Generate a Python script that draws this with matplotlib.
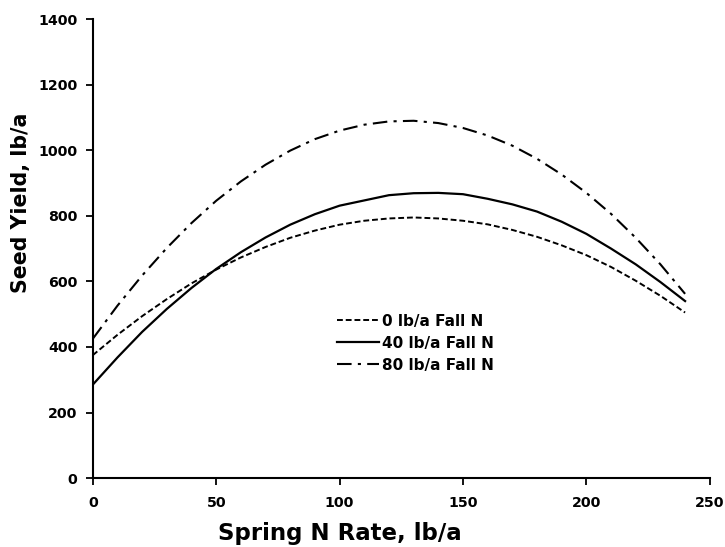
import matplotlib.pyplot as plt

plt.rcParams['font.family'] = ['DejaVu Sans']
plt.rcParams['font.weight'] = 'bold'

# spring N rate (lb/a) and seed yield (lb/a) for each fall N rate
spring_n = list(range(0, 241, 10))
yield_0 = [375, 437, 494, 546, 594, 636, 673, 705, 733, 755, 773, 785, 792,
           795, 792, 785, 774, 757, 736, 710, 680, 644, 602, 556, 505]
yield_40 = [285, 368, 446, 516, 580, 638, 689, 734, 773, 805, 831, 847, 863,
            869, 870, 866, 852, 835, 813, 782, 745, 700, 652, 598, 540]
yield_80 = [425, 526, 618, 702, 778, 846, 905, 956, 999, 1034, 1060, 1078, 1088,
            1090, 1083, 1068, 1045, 1014, 974, 926, 870, 806, 733, 652, 562]
labels = ['0 lb/a Fall N', '40 lb/a Fall N', '80 lb/a Fall N']

fig = plt.figure(figsize=(7.25, 5.47), dpi=100)
ax = fig.add_axes([0.128, 0.126, 0.851, 0.839])

ax.plot(spring_n, yield_0, color='black', lw=1.4, ls=(0, (3, 1.5)), label=labels[0])
ax.plot(spring_n, yield_40, color='black', lw=1.6, ls='-', label=labels[1])
ax.plot(spring_n, yield_80, color='black', lw=1.5, ls=(0, (7, 3, 1.5, 3)), label=labels[2])

ax.set_xlim(0, 250)
ax.set_ylim(0, 1400)
ax.set_xticks(range(0, 251, 50))
ax.set_yticks(range(0, 1401, 200))
ax.spines['top'].set_visible(False)
ax.spines['right'].set_visible(False)
for s in ['left', 'bottom']:
    ax.spines[s].set_linewidth(1.5)
ax.tick_params(direction='out', length=5, width=1.3, labelsize=10.2)
ax.tick_params(axis='y', pad=6)
ax.tick_params(axis='x', pad=8)

ax.set_xlabel('Spring N Rate, lb/a', fontsize=16.5, fontweight='bold')
ax.xaxis.set_label_coords(0.4, -0.095)
ax.set_ylabel('Seed Yield, lb/a', fontsize=14.8, fontweight='bold')
ax.yaxis.set_label_coords(-0.1, 0.6)

ax.legend(loc='upper left', bbox_to_anchor=(0.395, 0.358), frameon=False, fontsize=11,
          borderpad=0, borderaxespad=0, handlelength=2.8, handletextpad=0.2,
          labelspacing=0.45)

fig.savefig('out.png', dpi=100)
